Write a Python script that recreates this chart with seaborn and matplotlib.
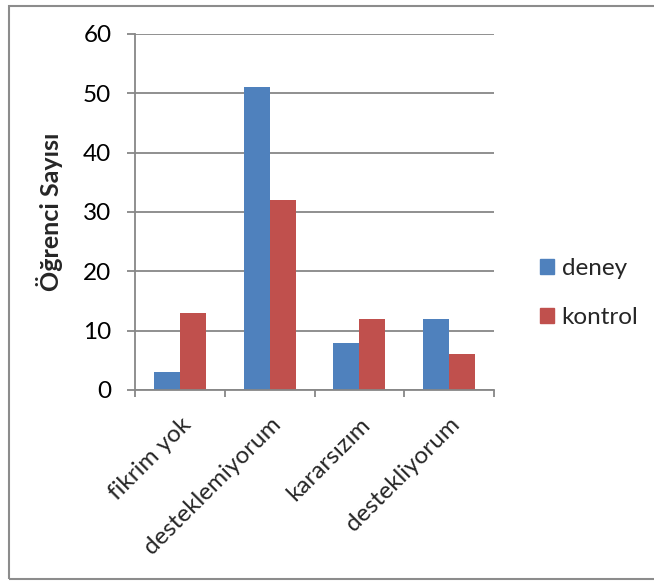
import matplotlib
matplotlib.use("Agg")
import matplotlib.pyplot as plt
import matplotlib.patches as mpatches
import seaborn as sns
import pandas as pd

categories = ["fikrim yok", "desteklemiyorum", "kararsızım", "destekliyorum"]
deney = [3, 51, 8, 12]
kontrol = [13, 32, 12, 6]
series_names = ["deney", "kontrol"]
y_ticks = [0, 10, 20, 30, 40, 50, 60]

df = pd.DataFrame({
    "kategori": categories * 2,
    "seri": [series_names[0]] * 4 + [series_names[1]] * 4,
    "deger": deney + kontrol,
})

sns.set_style("white")
plt.rcParams["font.family"] = ["Lato", "DejaVu Sans"]

W, H = 654, 581
fig = plt.figure(figsize=(W / 100, H / 100), dpi=100)
ax = fig.add_axes([135 / W, 1 - 390 / H, (494 - 135) / W, (390 - 34) / H])

palette = {"deney": "#4F81BD", "kontrol": "#C0504D"}
sns.barplot(data=df, x="kategori", y="deger", hue="seri", order=categories,
            hue_order=series_names, palette=palette, width=0.577, ax=ax,
            saturation=1, edgecolor="none", legend=False)

FS = 17.5
ax.set_ylim(0, 60)
ax.set_xlim(-0.5, 3.5)
ax.set_yticks(y_ticks)
ax.set_yticklabels([str(v) for v in y_ticks], fontsize=FS, color="#000000")
ax.yaxis.grid(True, color="#878787", linewidth=1.3)
ax.set_axisbelow(True)
ax.tick_params(axis="y", which="major", direction="out", length=6, width=1.3,
               color="#878787", left=True, pad=11)

ax.set_xticks([-0.5, 0.5, 1.5, 2.5, 3.5])
ax.set_xticklabels([])
ax.tick_params(axis="x", which="major", direction="out", length=5, width=1.3,
               color="#878787", bottom=True)
ax.set_xticks([0, 1, 2, 3], minor=True)
ax.set_xticklabels(categories, minor=True, rotation=45, ha="right",
                   rotation_mode="anchor", fontsize=FS)
ax.tick_params(axis="x", which="minor", length=0, pad=17)

for s in ["top", "right"]:
    ax.spines[s].set_visible(False)
for s in ["left", "bottom"]:
    ax.spines[s].set_color("#878787")
    ax.spines[s].set_linewidth(1.3)

ax.set_xlabel("")
ax.set_ylabel("Öğrenci Sayısı", fontsize=18, fontweight="bold")
ax.yaxis.set_label_coords(-0.2, 0.5)

handles = [mpatches.Patch(color=palette[n], label=n) for n in series_names]
fig.legend(handles=handles, loc="center left", bbox_to_anchor=(530 / W, 1 - 293 / H),
           frameon=False, fontsize=FS, handlelength=0.6, handleheight=0.6,
           handletextpad=0.3, labelspacing=1.15, borderaxespad=0)

border = mpatches.Rectangle((8.5 / W, 1 - 579 / H), 1.0, (579 - 5.5) / H,
                            transform=fig.transFigure, fill=False,
                            edgecolor="#8c8c8c", linewidth=1.5, clip_on=False)
fig.patches.append(border)

fig.savefig("out.png", dpi=100)
